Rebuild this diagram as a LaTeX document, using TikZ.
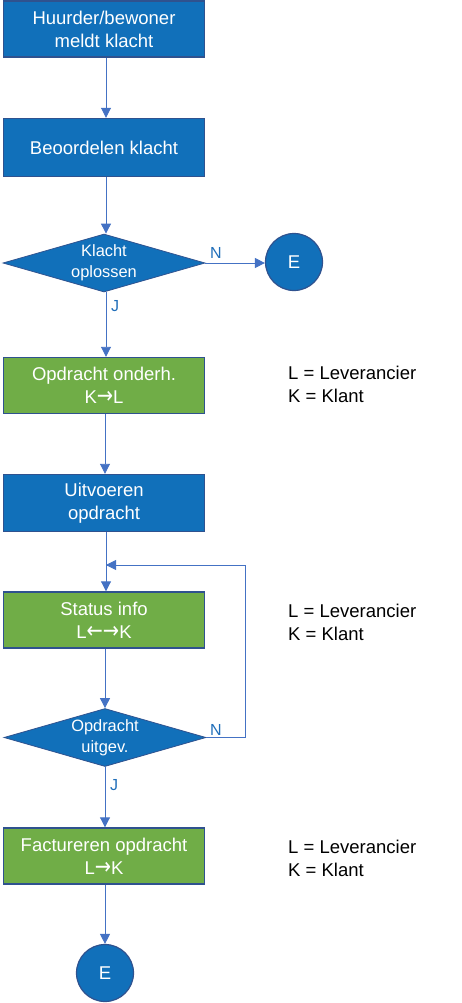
\documentclass[tikz,border=0pt]{standalone}
\usepackage{fontspec}
\setmainfont{Liberation Sans}
\newfontfamily\arrowfont{DejaVu Sans}
\newcommand{\ra}{{\arrowfont\scalebox{1.05}[1.25]{→}}}
\newcommand{\la}{{\arrowfont\scalebox{1.05}[1.25]{←}}}
\usetikzlibrary{shapes.geometric,arrows.meta}
\definecolor{boxblue}{RGB}{17,112,186}
\definecolor{edge}{RGB}{47,82,143}
\definecolor{boxgreen}{RGB}{112,173,71}
\definecolor{arrowc}{RGB}{68,114,196}
\definecolor{lblc}{RGB}{32,110,185}
\tikzset{
  boxbase/.style={rectangle, draw=edge, line width=1.4pt, minimum width=201pt, inner sep=0pt,
    text=white, align=center, font=\fontsize{18.5}{23}\selectfont},
  bluebox/.style={boxbase, fill=boxblue},
  greenbox/.style={boxbase, fill=boxgreen},
  decision/.style={diamond, fill=boxblue, draw=edge, line width=0.8pt, inner sep=0pt,
    minimum width=202pt, minimum height=58pt},
  dlabel/.style={text=white, align=center, inner sep=0pt, font=\fontsize{16.4}{21}\selectfont},
  endc/.style={circle, fill=boxblue, draw=edge, line width=1.2pt, minimum size=57pt, inner sep=0pt,
    text=white, font=\fontsize{18.5}{23}\selectfont},
  flow/.style={draw=arrowc, line width=0.9pt, -{Triangle[width=10pt,length=10pt]}},
  plain/.style={draw=arrowc, line width=0.9pt},
  yn/.style={text=lblc, inner sep=0pt, font=\fontsize{16}{19}\selectfont},
  note/.style={anchor=west, align=left, inner sep=0pt, font=\fontsize{18.5}{23}\selectfont}
}
\begin{document}
\begin{tikzpicture}[x=1pt,y=-1pt]
\useasboundingbox (0,0) rectangle (461,1003);
\node[bluebox, minimum height=56pt] (b1) at (104,29) {Huurder/bewoner\\meldt klacht};
\node[bluebox, minimum height=58pt] (b2) at (104,147.5) {Beoordelen klacht};
\node[decision, label={[dlabel]center:{Klacht\\oplossen}}] (d1) at (104,263) {};
\node[endc] (e1) at (294,262) {E};
\node[greenbox, minimum height=56pt] (g1) at (104,385.5) {Opdracht onderh.\\K\ra L};
\node[bluebox, minimum height=57pt] (b3) at (104,503) {Uitvoeren\\opdracht};
\node[greenbox, minimum height=56pt] (g2) at (104,620) {Status info\\L\la\ra K};
\node[decision, label={[dlabel]center:{Opdracht\\uitgev.}}] (d2) at (105,737.5) {};
\node[greenbox, minimum height=56pt] (g3) at (104,856) {Factureren opdracht\\L\ra K};
\node[endc] (e2) at (105,973) {E};

\node[note] (n1) at (288,384) {L = Leverancier\\K = Klant};
\node[note] (n2) at (288,622.5) {L = Leverancier\\K = Klant};
\node[note] (n3) at (288,858.5) {L = Leverancier\\K = Klant};

\coordinate (loopa) at (245,737.5);
\coordinate (loopb) at (245,565);
\coordinate (loopc) at (106,565);

\draw[flow] (b1.south -| 106,0) -- (b2.north -| 106,0);
\draw[flow] (b2.south -| 106,0) -- (d1.north -| 106,0);
\draw[flow] (d1.east) -- (d1.east -| e1.west);
\draw[flow] (d1.south -| 106,0) -- (g1.north -| 106,0);
\draw[flow] (g1.south -| 105,0) -- (b3.north -| 105,0);
\draw[flow] (b3.south -| 106,0) -- (g2.north -| 106,0);
\draw[flow] (g2.south -| 105,0) -- (d2.north -| 105,0);
\draw[plain] (d2.east) -- (loopa) -- (loopb) -- (loopc) ;
\draw[flow] (loopb) -- (loopc);
\draw[flow] (d2.south -| 105,0) -- (g3.north -| 105,0);
\draw[flow] (g3.south -| 105,0) -- (e2.north);

\node[yn] (n) at (216,253) {N};
\node[yn] (j) at (115,306) {J};
\node[yn] (n2l) at (216,730) {N};
\node[yn] (j2) at (114,785) {J};
\end{tikzpicture}
\end{document}
